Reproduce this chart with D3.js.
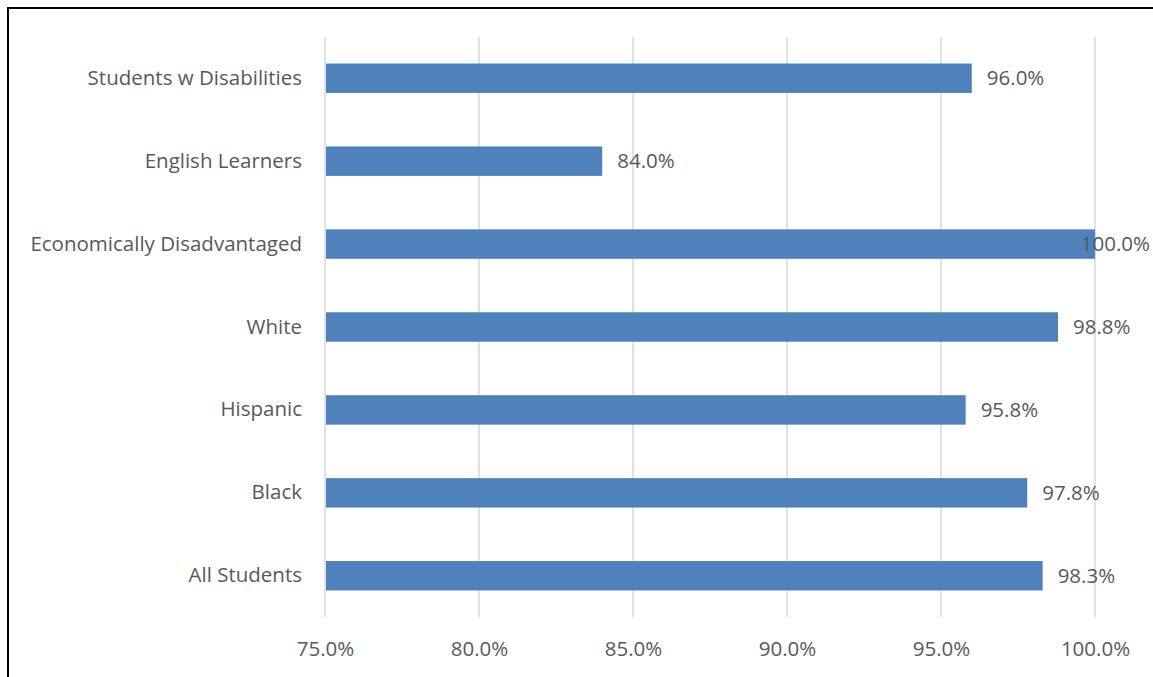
<!DOCTYPE html>
<html>
<head>
<meta charset="utf-8">
<script src="https://cdn.jsdelivr.net/npm/d3@7"></script>
<style>
    body { margin: 0; background: #fff; }
    text { font-family: "Open Sans", sans-serif; fill: #595959; }
</style>
</head>
<body>
<div id="chart"></div>
<script>
// Chart data
const categories = ["Students w Disabilities", "English Learners", "Economically Disadvantaged", "White", "Hispanic", "Black", "All Students"];
const values = [96.0, 84.0, 100.0, 98.8, 95.8, 97.8, 98.3];
const ticks = [75, 80, 85, 90, 95, 100];

const width = 1153, height = 677;
const margin = { top: 37, left: 325 };
const fontSize = "20.5px";

const svg = d3.select("#chart")
    .append("svg")
    .attr("width", width)
    .attr("height", height);

// Outer frame (only left and top edges fall inside the window)
svg.append("rect")
    .attr("x", 8)
    .attr("y", 8)
    .attr("width", width + 20)
    .attr("height", height + 20)
    .attr("fill", "none")
    .attr("stroke", "#000")
    .attr("stroke-width", 2);

const g = svg.append("g")
    .attr("transform", `translate(${margin.left},${margin.top})`);

const x = d3.scaleLinear().domain([75, 100]).range([0, 770]);
const y = d3.scaleBand().domain(categories).range([0, 580]).paddingInner(0.645).paddingOuter(0.32);

// Grid lines
g.append("g")
    .selectAll("line")
    .data(ticks)
    .join("line")
    .attr("x1", d => x(d))
    .attr("x2", d => x(d))
    .attr("y1", 0)
    .attr("y2", 580)
    .attr("stroke", "#d9d9d9")
    .attr("stroke-width", 1.5);

// Bars
g.selectAll(".bar")
    .data(values)
    .join("rect")
    .attr("class", "bar")
    .attr("x", x(75) + 1)
    .attr("y", (d, i) => y(categories[i]))
    .attr("width", d => x(d) - x(75) - 1)
    .attr("height", y.bandwidth())
    .attr("fill", "#4f81bd");

// Value labels (pushed back inside when they would run off the right edge)
const maxRight = width - margin.left - 3;
g.selectAll(".bar-label")
    .data(values)
    .join("text")
    .attr("class", "bar-label")
    .attr("y", (d, i) => y(categories[i]) + y.bandwidth() / 2)
    .attr("dy", "0.35em")
    .style("font-size", fontSize)
    .text(d => d.toFixed(1) + "%")
    .each(function (d) {
        const w = this.getComputedTextLength();
        let xPos = x(d) + 15;
        if (xPos + w > maxRight) xPos = maxRight - w;
        d3.select(this).attr("x", xPos);
    });

// Category axis labels
const yAxis = g.append("g")
    .call(d3.axisLeft(y).tickSize(0).tickPadding(23));
yAxis.select(".domain").remove();
yAxis.selectAll("text")
    .style("font-size", fontSize)
    .style("fill", "#595959")
    .style("font-family", "Open Sans, sans-serif");

// Value axis labels
const xAxis = g.append("g")
    .attr("transform", "translate(0,580)")
    .call(d3.axisBottom(x).tickValues(ticks).tickSize(0).tickPadding(24)
        .tickFormat(d => d.toFixed(1) + "%"));
xAxis.select(".domain").remove();
xAxis.selectAll("text")
    .style("font-size", fontSize)
    .style("fill", "#595959")
    .style("font-family", "Open Sans, sans-serif");
</script>
</body>
</html>
